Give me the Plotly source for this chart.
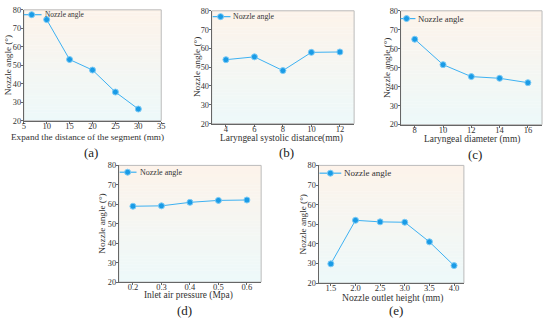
import plotly.graph_objects as go

W, H = 550, 325

# ---- data ----
xa = [10, 15, 20, 25, 30]
ya = [74.7, 53.1, 47.4, 35.5, 26.3]
xb = [4, 6, 8, 10, 12]
yb = [54.0, 55.5, 48.2, 57.9, 58.1]
xc = [8, 10, 12, 14, 16]
yc = [65.0, 51.6, 45.3, 44.4, 42.1]
xd = [0.2, 0.3, 0.4, 0.5, 0.6]
yd = [59.0, 59.2, 61.0, 62.0, 62.2]
xe = [1.5, 2.0, 2.5, 3.0, 3.5, 4.0]
ye = [29.8, 52.0, 51.2, 51.0, 41.0, 28.9]

xtitles = ["Expand the distance of the segment (mm)",
           "Laryngeal systolic distance(mm)",
           "Laryngeal diameter (mm)",
           "Inlet air pressure (Mpa)",
           "Nozzle outlet height (mm)"]
ytitle = "Nozzle angle (°)"
series_name = "Nozzle angle"
panel_labels = ["(a)", "(b)", "(c)", "(d)", "(e)"]

xranges = [[5, 35], [3, 13], [7, 17], [0.15, 0.65], [1.25, 4.2]]
xdticks = [5, 2, 2, 0.1, 0.5]
xtick0 = [5, 4, 8, 0.2, 1.5]
xfmt = ["", "", "", ".1f", ".1f"]

# layout (pixels)
boxes = [(22, 161, 6, 120), (212, 356, 7, 123), (403, 546, 7, 124),
         (118, 262, 166, 286), (320, 467, 166, 287)]
label_pos = [(90, 153), (288, 153), (478, 155), (185, 315), (398, 315)]
xtitle_pos = [(86, 137), (283, 138), (475, 139), (189, 300), (395, 302)]
ytitle_pos = [(6, 63), (197, 65), (389, 66), (101, 226), (304, 227)]
xtitle_size = [9.2, 9.4, 9.4, 9.4, 9.6]
# legend: (line x0, line x1, y, marker x, font size)
legends = [(22, 40, 11, 30, 7.4), (213, 231, 13, 221, 7.8),
           (403, 418, 15, 409, 8.7), (119, 136, 173, 127, 8.0),
           (321, 343, 174, 332, 9.0)]

FONT = "Liberation Serif"
LINE = "#3DB1F2"
MARK = "#1A9BE6"

fig = go.Figure()
data = [(xa, ya), (xb, yb), (xc, yc), (xd, yd), (xe, ye)]
shapes = []
annotations = []
layout = {}

top_rgb = (253, 243, 234)
bot_rgb = (237, 249, 250)
NSTRIP = 40


def px(x):
    return x / W


def py(y):
    return 1 - y / H


def note(text, x, y, size, color="#333", angle=0, xanchor="center"):
    return dict(text=text, x=px(x), y=py(y), xref="paper", yref="paper",
                xanchor=xanchor, yanchor="middle", showarrow=False,
                textangle=angle, font=dict(family=FONT, size=size, color=color))


for i, ((x, y), (l, r, t, b)) in enumerate(zip(data, boxes)):
    n = "" if i == 0 else str(i + 1)
    fig.add_trace(go.Scatter(
        x=x, y=y, mode="lines+markers", name=series_name,
        line=dict(color=LINE, width=1),
        marker=dict(color=MARK, size=6, symbol="circle",
                    line=dict(color="#7CCBF6", width=1)),
        xaxis="x" + n, yaxis="y" + n, showlegend=False,
    ))
    xd_ = [px(l), px(r)]
    yd_ = [py(b), py(t)]
    layout["xaxis" + n] = dict(
        domain=xd_, anchor="y" + n, range=xranges[i],
        tick0=xtick0[i], dtick=xdticks[i], tickformat=xfmt[i],
        showgrid=False, zeroline=False, showline=True, linecolor="#666",
        linewidth=1, ticks="outside", ticklen=2, tickcolor="#666",
        ticklabelstandoff=-5,
        tickfont=dict(family=FONT, size=8.5, color="#333"),
    )
    layout["yaxis" + n] = dict(
        domain=yd_, anchor="x" + n, range=[20, 80], dtick=10,
        showgrid=False, zeroline=False, showline=True, linecolor="#666",
        linewidth=1, ticks="outside", ticklen=2, tickcolor="#666",
        ticklabelstandoff=-2,
        tickfont=dict(family=FONT, size=8.3, color="#333"),
    )
    # gradient background strips
    for k in range(NSTRIP):
        f = (k + 0.5) / NSTRIP
        c = tuple(round(bot_rgb[j] + (top_rgb[j] - bot_rgb[j]) * f) for j in range(3))
        shapes.append(dict(
            type="rect", xref="x" + n + " domain", yref="y" + n + " domain",
            x0=0, x1=1, y0=k / NSTRIP, y1=(k + 1) / NSTRIP + 0.002,
            fillcolor="rgb(%d,%d,%d)" % c, line=dict(width=0), layer="below",
        ))
    shapes.append(dict(
        type="rect", xref="x" + n + " domain", yref="y" + n + " domain",
        x0=0, x1=1, y0=0, y1=1, line=dict(color="#BBBBBB", width=1),
        layer="below",
    ))
    annotations.append(note(xtitles[i], *xtitle_pos[i], xtitle_size[i]))
    annotations.append(note(ytitle, *ytitle_pos[i], 9.2, angle=-90))
    annotations.append(note(panel_labels[i], *label_pos[i], 13, color="#222"))
    # legend (line sample + marker + text)
    lx0, lx1, ly_, mx, fs = legends[i]
    shapes.append(dict(type="line", xref="paper", yref="paper", layer="above",
                       x0=px(lx0), x1=px(lx1), y0=py(ly_), y1=py(ly_),
                       line=dict(color=LINE, width=1.2)))
    shapes.append(dict(type="circle", xref="paper", yref="paper",
                       xsizemode="pixel", ysizemode="pixel",
                       xanchor=px(mx), yanchor=py(ly_),
                       x0=-3, x1=3, y0=-3, y1=3,
                       fillcolor=MARK, line=dict(color="#7CCBF6", width=1)))
    annotations.append(note(series_name, lx1 + 1, ly_, fs, xanchor="left"))

fig.update_layout(
    width=W, height=H, margin=dict(l=0, r=0, t=0, b=0),
    paper_bgcolor="white", plot_bgcolor="rgba(0,0,0,0)",
    shapes=shapes, annotations=annotations, showlegend=False,
    **layout,
)
fig.write_html("out.html", config={"displayModeBar": False},
               post_script="document.body.style.margin='0px';")
